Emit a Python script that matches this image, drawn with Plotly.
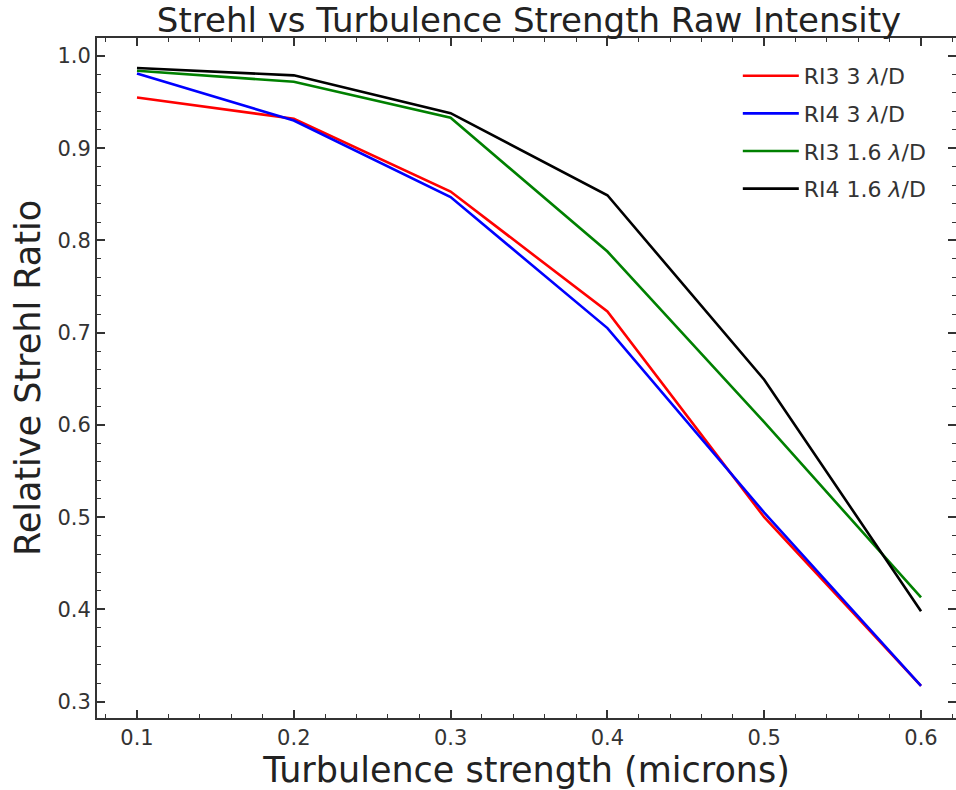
import plotly.graph_objects as go

turbulence = [0.1, 0.2, 0.3, 0.4, 0.5, 0.6]
ri3_3 = [0.955, 0.932, 0.853, 0.723, 0.500, 0.317]
ri4_3 = [0.981, 0.930, 0.847, 0.705, 0.505, 0.317]
ri3_16 = [0.984, 0.972, 0.933, 0.788, 0.603, 0.413]
ri4_16 = [0.987, 0.979, 0.938, 0.849, 0.649, 0.398]

series = [
    ("RI3 3 <i>λ</i>/D", ri3_3, "#ff0000"),
    ("RI4 3 <i>λ</i>/D", ri4_3, "#0000ff"),
    ("RI3 1.6 <i>λ</i>/D", ri3_16, "#008000"),
    ("RI4 1.6 <i>λ</i>/D", ri4_16, "#000000"),
]

fig = go.Figure()
for i, (name, vals, col) in enumerate(series):
    fig.add_trace(go.Scatter(x=turbulence, y=vals, mode="lines", name=name,
                             legendgroup=f"g{i}",
                             line=dict(color=col, width=2.6)))

font = "DejaVu Sans, Verdana, sans-serif"
axis_common = dict(
    showgrid=False, zeroline=False, showline=True, linecolor="#333333", linewidth=1.8,
    mirror="allticks", ticks="inside", ticklen=8, tickwidth=1.6, tickcolor="#333333",
    tickfont=dict(family=font, size=21, color="#333333"), automargin=False,
)
fig.update_xaxes(
    range=[0.0745, 0.6223], tickvals=[0.1, 0.2, 0.3, 0.4, 0.5, 0.6],
    ticktext=["0.1", "0.2", "0.3", "0.4", "0.5", "0.6"],
    minor=dict(dtick=0.02, tick0=0.0, ticks="inside", ticklen=4, tickwidth=1.4, tickcolor="#333333"),
    title=dict(text="Turbulence strength (microns)", font=dict(family=font, size=35, color="#222222"), standoff=4),
    **axis_common,
)
fig.update_yaxes(
    range=[0.2823, 1.0195], tickvals=[0.3, 0.4, 0.5, 0.6, 0.7, 0.8, 0.9, 1.0],
    ticktext=["0.3", "0.4", "0.5", "0.6", "0.7", "0.8", "0.9", "1.0"],
    minor=dict(dtick=0.02, tick0=0.0, ticks="inside", ticklen=4, tickwidth=1.4, tickcolor="#333333"),
    title=dict(text="Relative Strehl Ratio", font=dict(family=font, size=35, color="#222222"), standoff=6),
    **axis_common,
)

fig.update_layout(
    width=956, height=790,
    margin=dict(l=97, r=0, t=38, b=72),
    paper_bgcolor="white", plot_bgcolor="white",
    title=dict(text="Strehl vs Turbulence Strength Raw Intensity", x=529 / 956, xanchor="center",
               xref="container", yref="container", automargin=False,
               y=1 - 20 / 790, yanchor="middle", font=dict(family=font, size=34, color="#222222")),
    legend=dict(x=0.746, y=0.975, xanchor="left", yanchor="top", bgcolor="rgba(0,0,0,0)",
                font=dict(family=font, size=22, color="#333333"), tracegroupgap=6,
                itemwidth=56),
    showlegend=True,
)

fig.write_html("out.html", config={"displayModeBar": False},
               post_script="document.body.style.margin='0';document.documentElement.style.overflow='hidden';")
